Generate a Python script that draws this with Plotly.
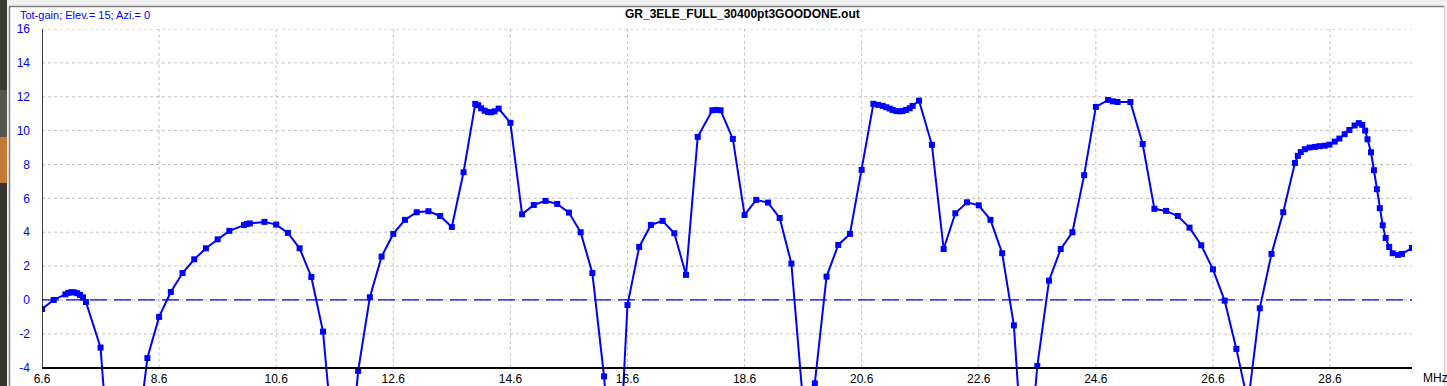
import plotly.graph_objects as go

# ---- data ----
freq_mhz = [
    6.6, 6.8, 7.0, 7.05, 7.1, 7.15, 7.2, 7.25, 7.3, 7.35, 7.6, 7.8, 8.0, 8.2, 8.4,
    8.6, 8.8, 9.0, 9.2, 9.4, 9.6, 9.8, 10.05, 10.1, 10.15, 10.4, 10.6, 10.8, 11.0,
    11.2, 11.4, 11.6, 11.8, 12.0, 12.2, 12.4, 12.6, 12.8, 13.0, 13.2, 13.4, 13.6,
    13.8, 14.0, 14.05, 14.1, 14.16, 14.22, 14.27, 14.33, 14.4, 14.6, 14.8, 15.0,
    15.2, 15.4, 15.6, 15.8, 16.0, 16.2, 16.4, 16.6, 16.8, 17.0, 17.2, 17.4, 17.6,
    17.8, 18.05, 18.12, 18.19, 18.4, 18.6, 18.8, 19.0, 19.2, 19.4, 19.6, 19.8,
    20.0, 20.2, 20.4, 20.6, 20.8, 20.88, 20.96, 21.02, 21.08, 21.13, 21.19, 21.25,
    21.3, 21.36, 21.42, 21.47, 21.58, 21.8, 22.0, 22.2, 22.4, 22.6, 22.8, 23.0,
    23.2, 23.4, 23.6, 23.8, 24.0, 24.2, 24.4, 24.6, 24.81, 24.89, 24.97, 25.19,
    25.4, 25.6, 25.8, 26.0, 26.2, 26.4, 26.6, 26.8, 27.0, 27.2, 27.4, 27.6, 27.8,
    28.0, 28.05, 28.1, 28.17, 28.25, 28.34, 28.42, 28.51, 28.59, 28.68, 28.76,
    28.85, 28.93, 29.02, 29.09, 29.15, 29.2, 29.24, 29.3, 29.35, 29.4, 29.45,
    29.5, 29.55, 29.61, 29.67, 29.76, 29.83, 30.0,
]
gain_db = [
    -0.53, 0.0, 0.33, 0.42, 0.46, 0.45, 0.40, 0.30, 0.15, -0.12, -2.81, -12.0, -20.0, -9.1, -3.43,
    -1.0, 0.47, 1.59, 2.40, 3.05, 3.58, 4.08, 4.42, 4.49, 4.52, 4.61, 4.45, 3.96, 3.05,
    1.36, -1.87, -9.5, -12.0, -4.19, 0.16, 2.56, 3.90, 4.73, 5.18, 5.24, 4.96, 4.31,
    7.54, 11.58, 11.5, 11.32, 11.18, 11.1, 11.08, 11.14, 11.3, 10.46, 5.06, 5.61,
    5.85, 5.67, 5.16, 4.0, 1.59, -4.51, -14.0, -0.30, 3.13, 4.43, 4.67, 3.94, 1.48,
    9.63, 11.2, 11.22, 11.2, 9.51, 5.02, 5.91, 5.75, 4.84, 2.15, -6.1, -4.92,
    1.38, 3.25, 3.90, 7.68, 11.58, 11.52, 11.46, 11.38, 11.3, 11.22, 11.16, 11.14,
    11.16, 11.22, 11.32, 11.46, 11.77, 9.16, 3.01, 5.12, 5.77, 5.59, 4.73, 2.76,
    -1.5, -12.0, -3.9, 1.14, 3.01, 4.0, 7.37, 11.4, 11.81, 11.73, 11.69, 11.69,
    9.21, 5.38, 5.26, 4.96, 4.27, 3.23, 1.81, -0.04, -2.89, -6.1, -0.49, 2.72, 5.18,
    8.09, 8.51, 8.73, 8.9, 9.0, 9.04, 9.08, 9.11, 9.17, 9.35, 9.53,
    9.79, 10.04, 10.30, 10.44, 10.34, 10.0, 9.49, 8.72, 7.66, 6.54, 5.42,
    4.41, 3.66, 3.13, 2.76, 2.66, 2.72, 3.07,
]
x_ticks = [6.6, 8.6, 10.6, 12.6, 14.6, 16.6, 18.6, 20.6, 22.6, 24.6, 26.6, 28.6]
y_ticks = [-4, -2, 0, 2, 4, 6, 8, 10, 12, 14, 16]
x_min, x_max = 6.6, 30.0
y_axis_min, y_max = -4, 16
y_view_min = -5.08
reference_level = 0

title_text = "GR_3ELE_FULL_30400pt3GOODONE.out"
info_text = "Tot-gain; Elev.= 15; Azi.= 0"
unit_text = "MHz"

BLUE = "#0000FF"
GRID = "#c0c0c0"
W, H = 1447, 386
ML, MR, MT, MB = 42, 35, 29, 0
PW, PH = W - ML - MR, H - MT - MB


def px(xpix):
    return (xpix - ML) / PW


def py(ypix):
    return (H - MB - ypix) / PH


fig = go.Figure()
fig.add_trace(go.Scatter(
    x=freq_mhz, y=gain_db, mode="lines+markers",
    line=dict(color=BLUE, width=2),
    marker=dict(symbol="square", size=6, color=BLUE),
    showlegend=False, hoverinfo="x+y",
))

shapes = []
# grid lines (only inside the -4..16 frame)
for xv in x_ticks[1:]:
    shapes.append(dict(type="line", xref="x", yref="y", x0=xv, x1=xv, y0=y_axis_min, y1=y_max,
                       line=dict(color=GRID, width=1, dash="3px,3px"), layer="below"))
for yv in y_ticks[1:]:
    shapes.append(dict(type="line", xref="x", yref="y", x0=x_min, x1=x_max, y0=yv, y1=yv,
                       line=dict(color=GRID, width=1, dash="3px,3px"), layer="below"))
# zero reference
shapes.append(dict(type="line", xref="x", yref="y", x0=x_min, x1=x_max, y0=reference_level, y1=reference_level,
                   line=dict(color=BLUE, width=1.3, dash="17px,7px"), layer="below"))
# left axis line
shapes.append(dict(type="line", xref="x", yref="y", x0=x_min, x1=x_min, y0=y_axis_min, y1=y_max,
                   line=dict(color="black", width=1.5), layer="above"))
# window frame decoration
shapes += [
    dict(type="rect", xref="paper", yref="paper", x0=px(0), x1=px(W), y0=py(6), y1=py(0),
         fillcolor="#f0f0f0", line=dict(width=0), layer="above"),
    dict(type="line", xref="paper", yref="paper", x0=px(9), x1=px(1444), y0=py(6.5), y1=py(6.5),
         line=dict(color="#808080", width=1.5), layer="above"),
    dict(type="rect", xref="paper", yref="paper", x0=px(7), x1=px(9), y0=py(H), y1=py(6),
         fillcolor="#f0f0f0", line=dict(width=0), layer="above"),
    dict(type="line", xref="paper", yref="paper", x0=px(9.5), x1=px(9.5), y0=py(H), y1=py(6.5),
         line=dict(color="#808080", width=1.5), layer="above"),
    dict(type="rect", xref="paper", yref="paper", x0=px(0), x1=px(7), y0=py(90), y1=py(0),
         fillcolor="#3b3a36", line=dict(width=0), layer="above"),
    dict(type="rect", xref="paper", yref="paper", x0=px(0), x1=px(7), y0=py(137), y1=py(90),
         fillcolor="#55544f", line=dict(width=0), layer="above"),
    dict(type="rect", xref="paper", yref="paper", x0=px(0), x1=px(7), y0=py(183), y1=py(137),
         fillcolor="#c47a35", line=dict(width=0), layer="above"),
    dict(type="rect", xref="paper", yref="paper", x0=px(0), x1=px(7), y0=py(H), y1=py(183),
         fillcolor="#35342f", line=dict(width=0), layer="above"),
    dict(type="line", xref="paper", yref="paper", x0=px(1444.5), x1=px(1444.5), y0=py(H), y1=py(6.5),
         line=dict(color="#d0d0d0", width=1), layer="above"),
    dict(type="rect", xref="paper", yref="paper", x0=px(1445), x1=px(W), y0=py(H), y1=py(6),
         fillcolor="#f0f0f0", line=dict(width=0), layer="above"),
]

annotations = [
    dict(text=info_text, xref="paper", yref="paper", x=px(18), y=py(15), xanchor="left", yanchor="middle",
         showarrow=False, font=dict(family="Liberation Sans, Arial, sans-serif", size=11, color=BLUE)),
    dict(text="<b>" + title_text + "</b>", xref="paper", yref="paper", x=px(742), y=py(14),
         xanchor="center", yanchor="middle", showarrow=False,
         font=dict(family="Liberation Sans, Arial, sans-serif", size=12, color="black")),
    dict(text=unit_text, xref="paper", yref="paper", x=px(1421), y=py(378), xanchor="left", yanchor="middle",
         showarrow=False, font=dict(family="Liberation Sans, Arial, sans-serif", size=12, color="black")),
]

axis_pos = (y_axis_min - y_view_min) / (y_max - y_view_min)

fig.update_layout(
    width=W, height=H, margin=dict(l=ML, r=MR, t=MT, b=MB, pad=0),
    paper_bgcolor="white", plot_bgcolor="white",
    font=dict(family="Liberation Sans, Arial, sans-serif", size=12, color="black"),
    shapes=shapes, annotations=annotations, showlegend=False,
    xaxis=dict(range=[x_min, x_max], anchor="free", position=axis_pos, automargin=False,
               showgrid=False, zeroline=False, showline=True, linecolor="black", linewidth=1.5,
               tickvals=x_ticks, ticktext=[f"{v:.1f}" for v in x_ticks], ticks="",
               tickfont=dict(color="black", size=12), fixedrange=True),
    yaxis=dict(range=[y_view_min, y_max], automargin=False, showgrid=False, zeroline=False,
               showline=False, tickvals=y_ticks, ticktext=[str(v) for v in y_ticks], ticks="",
               ticklabelstandoff=11, tickfont=dict(color=BLUE, size=12), fixedrange=True),
)

fig.write_html("out.html")
